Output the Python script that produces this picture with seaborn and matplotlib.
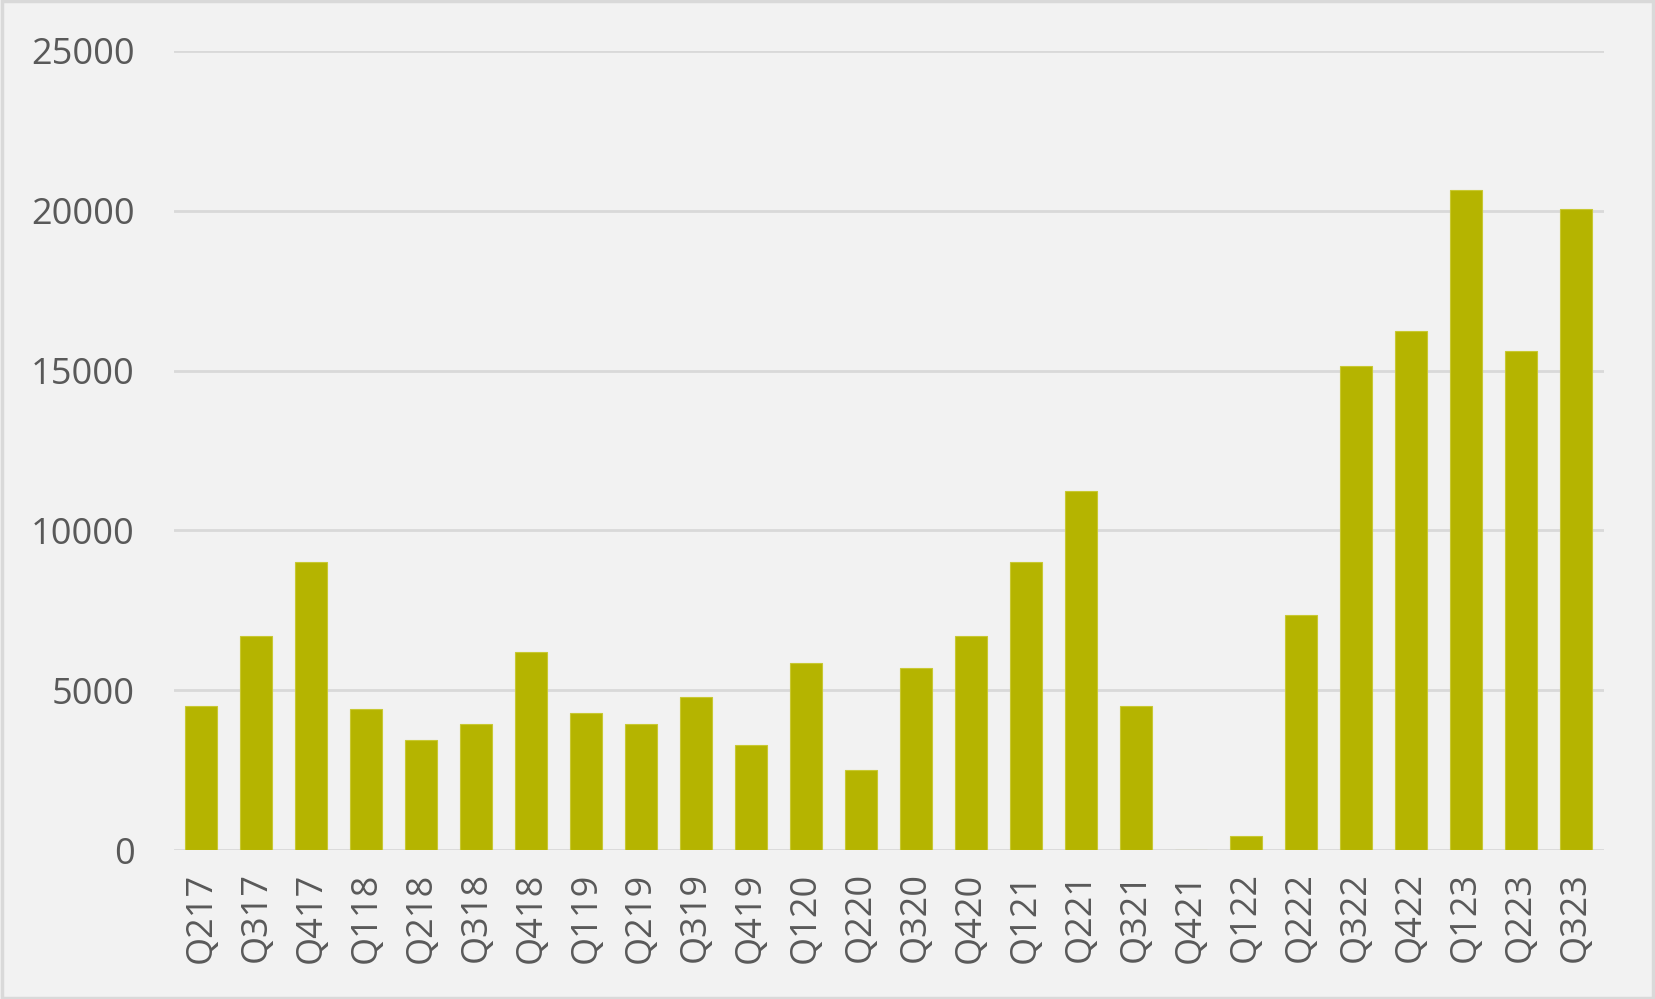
import matplotlib
matplotlib.use("Agg")
import matplotlib.pyplot as plt
import seaborn as sns
import pandas as pd

# quarterly values
quarters = ["Q217", "Q317", "Q417", "Q118", "Q218", "Q318", "Q418", "Q119", "Q219",
            "Q319", "Q419", "Q120", "Q220", "Q320", "Q420", "Q121", "Q221", "Q321",
            "Q421", "Q122", "Q222", "Q322", "Q422", "Q123", "Q223", "Q323"]
values = [4500, 6700, 9000, 4400, 3450, 3950, 6200, 4300, 3950,
          4800, 3300, 5850, 2500, 5700, 6700, 9000, 11250, 4500,
          0, 450, 7350, 15150, 16250, 20650, 15600, 20050]
y_ticks = [0, 5000, 10000, 15000, 20000, 25000]

bar_color = "#b5b400"
text_color = "#595959"
grid_color = "#d9d9d9"
bg = "#f2f2f2"

sns.set_style("white")
plt.rcParams["font.family"] = ["Open Sans", "DejaVu Sans"]

df = pd.DataFrame({"quarter": quarters, "value": values})

fig = plt.figure(figsize=(16.55, 9.99), dpi=100, facecolor=bg)
ax = fig.add_axes([0.105, 0.149, 0.864, 0.800])
ax.set_facecolor(bg)

sns.barplot(data=df, x="quarter", y="value", color=bar_color, saturation=1,
            width=0.58, edgecolor="#c8c832", linewidth=0.8, ax=ax, zorder=3)

ax.set_ylim(0, 25000)
ax.set_xlim(-0.5, len(quarters) - 0.5)
ax.set_yticks(y_ticks)
ax.set_yticklabels([str(t) for t in y_ticks])
ax.yaxis.grid(True, color=grid_color, linewidth=2.0, zorder=0)
ax.set_axisbelow(True)
ax.set_xlabel("")
ax.set_ylabel("")
for s in ax.spines.values():
    s.set_visible(False)

ax.tick_params(axis="y", length=0, pad=28, labelsize=26, labelcolor=text_color)
ax.tick_params(axis="x", length=0, pad=16, labelsize=26, labelcolor=text_color,
               labelrotation=90)

# light frame around the whole chart
fig.patches.append(plt.Rectangle((0.001, 0.001), 0.998, 0.998, transform=fig.transFigure,
                                 fill=False, edgecolor=grid_color, linewidth=2.5))

fig.savefig("out.png", dpi=100, facecolor=bg)
